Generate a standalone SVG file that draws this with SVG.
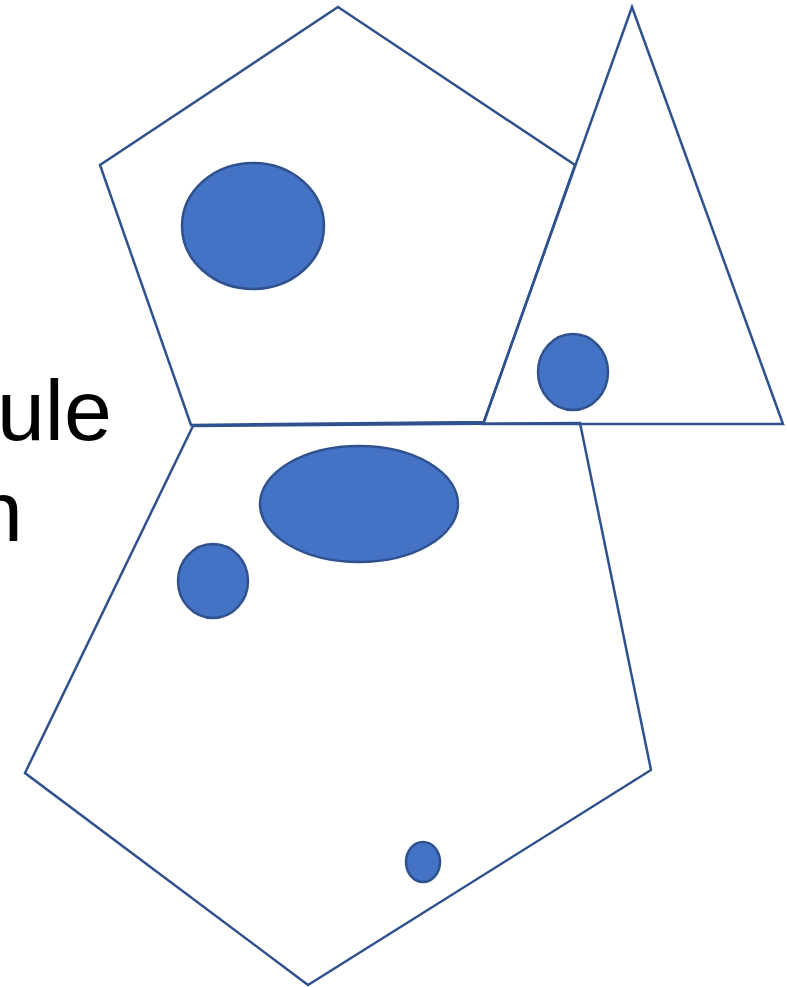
<svg xmlns="http://www.w3.org/2000/svg" width="787" height="987" viewBox="0 0 787 987">
<style>
.shape{fill:none;stroke:#2F528F;stroke-width:2.5;stroke-linejoin:miter}
.dot{fill:#4472C4;stroke:#2F528F;stroke-width:2.5}
.lbl{font-family:"Liberation Sans",Arial,sans-serif;font-size:86px;fill:#000}
</style>
<rect width="787" height="987" fill="#fff"/>
<g id="labels">
<text class="lbl" x="-3" y="440">ule</text>
<text class="lbl" x="-25" y="541">n</text>
</g>
<g id="top-pentagon">
<polygon class="shape" points="338,7 575,165 484,422 191,425 100,165"/>
<ellipse class="dot" cx="253" cy="226" rx="71" ry="63"/>
</g>
<g id="triangle">
<polygon class="shape" points="632,7 783,424 483,424"/>
<ellipse class="dot" cx="573" cy="372" rx="35" ry="38"/>
</g>
<g id="bottom-pentagon">
<polygon class="shape" points="193,426 580,423 651,770 308,985 25,773"/>
<ellipse class="dot" cx="359" cy="504" rx="99" ry="58"/>
<ellipse class="dot" cx="213" cy="581" rx="35" ry="37"/>
<ellipse class="dot" cx="423" cy="862" rx="17" ry="20"/>
</g>
<g id="connectors"></g>
</svg>
